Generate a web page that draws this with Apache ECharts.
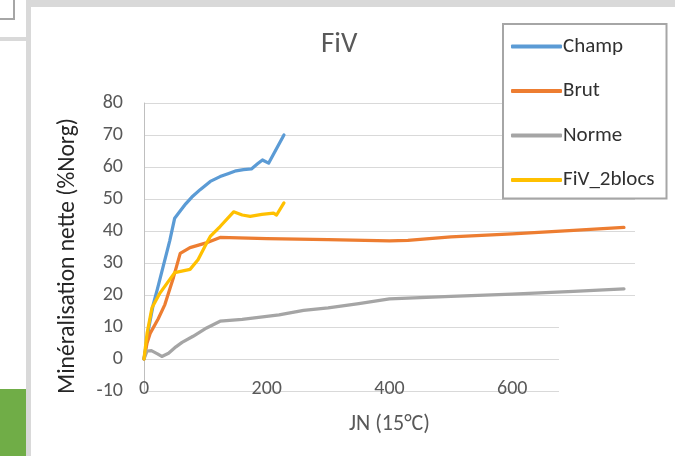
<!DOCTYPE html>
<html>
<head>
<meta charset="utf-8">
<script src="https://cdn.jsdelivr.net/npm/echarts@6/dist/echarts.min.js"></script>
<style>
  html, body { margin: 0; padding: 0; background: #ffffff; }
  #chart { width: 675px; height: 456px; }
</style>
</head>
<body>
<div id="chart"></div>
<script>
// Net N mineralisation curves, [normalised days at 15 °C, % of organic N]
const champ = [[0,0],[8,10],[15,17],[22,22],[32,29.5],[42,37],[50,44],[58,46],[68,48.5],[78,50.6],[92,53],[108,55.5],[124,57],[138,58],[150,58.8],[162,59.2],[175,59.4],[185,61],[193,62.2],[203,61.2],[228,70]];
const brut = [[0,0],[5,5],[10,8],[23,12.5],[34,17],[48,25.5],[59,33],[75,34.8],[100,36.2],[124,38],[200,37.6],[300,37.3],[400,36.9],[430,37.1],[500,38.2],[600,39.1],[700,40.2],[782,41.1]];
const norme = [[0,0],[5,2.5],[12,2.6],[22,1.6],[29,0.8],[40,1.8],[52,3.8],[62,5.2],[80,7.1],[102,9.7],[124,11.8],[160,12.4],[220,13.8],[260,15.2],[300,16],[350,17.3],[400,18.8],[500,19.6],[600,20.3],[700,21.1],[782,21.9]];
const fiv2blocs = [[0,0],[5,8],[13,16],[26,20.6],[38,23.8],[50,27],[75,28],[88,31],[100,35.5],[108,38.3],[124,41.4],[146,46],[160,45],[173,44.6],[192,45.2],[211,45.6],[216,45],[228,48.8]];

const seriesNames = ['Champ', 'Brut', 'Norme', 'FiV_2blocs'];
const seriesData = [champ, brut, norme, fiv2blocs];
const seriesColors = ['#5b9bd5', '#ed7d31', '#a5a5a5', '#ffc000'];

const chartTitle = 'FiV';
const xTitle = 'JN (15°C)';
const yTitle = 'Minéralisation nette (%Norg)';

const FONT = 'Carlito, Lato, sans-serif';

const chart = echarts.init(document.getElementById('chart'), null, { renderer: 'canvas' });

chart.setOption({
  backgroundColor: '#ffffff',
  animation: false,
  title: {
    text: chartTitle,
    left: 321,
    top: 30,
    padding: 0,
    textStyle: { fontFamily: FONT, fontSize: 29, fontWeight: 'normal', color: '#595959' }
  },
  legend: {
    orient: 'vertical',
    left: 503,
    top: 24,
    padding: [12, 12, 8, 8],
    itemGap: 23.5,
    itemWidth: 51,
    itemHeight: 4,
    icon: 'roundRect',
    borderColor: '#a6a6a6',
    borderWidth: 2,
    borderRadius: 0,
    backgroundColor: '#ffffff',
    textStyle: { fontFamily: FONT, fontSize: 21, color: '#303030', lineHeight: 20, padding: [0, 0, 0, -4] },
    data: seriesNames
  },
  grid: { left: 144, right: 40, top: 103, bottom: 65, containLabel: false },
  xAxis: {
    type: 'value',
    min: 0,
    max: 800,
    interval: 200,
    name: xTitle,
    nameLocation: 'middle',
    nameGap: 33,
    nameTextStyle: { fontFamily: FONT, fontSize: 22, color: '#595959', verticalAlign: 'middle' },
    axisLine: { show: true, onZero: false, lineStyle: { color: '#d9d9d9', width: 1 } },
    axisTick: { show: false },
    splitLine: { show: false },
    axisLabel: { fontFamily: FONT, fontSize: 20, color: '#595959', margin: -2, verticalAlign: 'middle' }
  },
  yAxis: {
    type: 'value',
    min: -10,
    max: 80,
    interval: 10,
    name: yTitle,
    nameLocation: 'middle',
    nameGap: 64,
    nameRotate: 90,
    nameTextStyle: { fontFamily: FONT, fontSize: 23.5, color: '#262626', padding: [0, 18, 0, 0] },
    axisLine: { show: true, onZero: false, lineStyle: { color: '#bfbfbf', width: 1 } },
    axisTick: { show: false },
    splitLine: { show: true, lineStyle: { color: '#d9d9d9', width: 1 } },
    axisLabel: { fontFamily: FONT, fontSize: 20, color: '#595959', margin: 21 }
  },
  series: seriesNames.map((name, i) => ({
    name: name,
    type: 'line',
    data: seriesData[i],
    showSymbol: false,
    symbol: 'none',
    smooth: false,
    color: seriesColors[i],
    lineStyle: { width: 3.25, color: seriesColors[i], cap: 'round', join: 'round' }
  })),
  graphic: [
    // window chrome around the chart sheet
    { type: 'rect', z: -10, shape: { x: 30, y: 0, width: 645, height: 7 }, style: { fill: '#d9d9d9' } },
    { type: 'rect', z: -10, shape: { x: 26, y: 0, width: 5, height: 456 }, style: { fill: '#d9d9d9' } },
    { type: 'rect', z: -10, shape: { x: 0, y: 37, width: 26, height: 4 }, style: { fill: '#d9d9d9' } },
    { type: 'rect', z: -10, shape: { x: -2, y: -2, width: 16, height: 21 }, style: { fill: '#ffffff', stroke: '#a6a6a6', lineWidth: 2 } },
    { type: 'rect', z: -10, shape: { x: 0, y: 389, width: 26, height: 67 }, style: { fill: '#70ad47' } },
    // blank panel over the lower right of the plot
    { type: 'rect', z: 100, shape: { x: 559, y: 305, width: 116, height: 151 }, style: { fill: '#ffffff' } }
  ]
});
</script>
</body>
</html>
